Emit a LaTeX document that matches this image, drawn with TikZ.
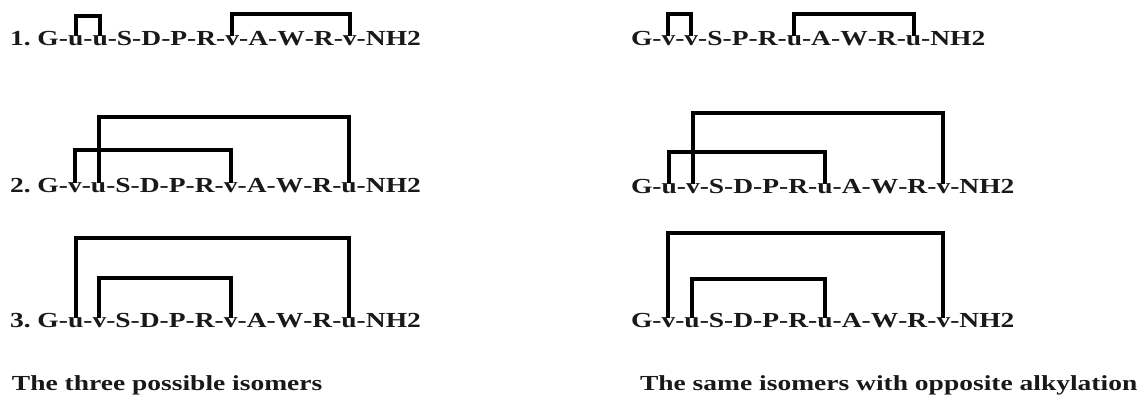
\documentclass[tikz,border=0pt]{standalone}
\usepackage{fontspec}
\usepackage{graphicx}
\setmainfont{Liberation Serif}
\newcommand\sq[1]{\scalebox{1}[0.78]{#1}}
\newcommand\pepline[4]{%
  \node[tok, anchor=base west] (#1-0) at #2 {\sq{#3}};
  \foreach \t [count=\i, remember=\i as \j (initially 0)] in {#4} {
    \node[tok, anchor=base west] (#1-\i) at (#1-\j.base east) {\sq{\t}};
  }%
}
\begin{document}
\begin{tikzpicture}[
  x=1pt, y=1pt,
  tok/.style={inner sep=0pt, outer sep=0pt, text=black!90,
    font=\fontsize{27.5pt}{30pt}\selectfont\bfseries},
  caption/.style={inner sep=0pt, outer sep=0pt, text=black!90,
    font=\fontsize{27.5pt}{30pt}\selectfont\bfseries},
  bracket/.style={line width=4pt, line join=miter, draw=black}
]
\useasboundingbox (0,0) rectangle (1144,409);

% left column
\pepline{L1}{(10,363)}{1.~}{G,-,u,-,u,-,S,-,D,-,P,-,R,-,v,-,A,-,W,-,R,-,v,-,NH2}
\pepline{L2}{(10,216)}{2.~}{G,-,v,-,u,-,S,-,D,-,P,-,R,-,v,-,A,-,W,-,R,-,u,-,NH2}
\pepline{L3}{(10,81)}{3.~}{G,-,u,-,v,-,S,-,D,-,P,-,R,-,v,-,A,-,W,-,R,-,u,-,NH2}

% right column
\pepline{R1}{(630,363)}{}{G,-,v,-,v,-,S,-,P,-,R,-,u,-,A,-,W,-,R,-,u,-,NH2}
\pepline{R2}{(630,215)}{}{G,-,u,-,v,-,S,-,D,-,P,-,R,-,u,-,A,-,W,-,R,-,v,-,NH2}
\pepline{R3}{(630,81)}{}{G,-,v,-,u,-,S,-,D,-,P,-,R,-,u,-,A,-,W,-,R,-,v,-,NH2}

% captions
\node[caption, anchor=base west] (capL) at (12,18) {\sq{The three possible isomers}};
\node[caption, anchor=base west] (capR) at (640,18) {\sq{The same isomers with opposite alkylation}};

% brackets, left column
\draw[bracket] (L1-3.north) -- (L1-3.north |- 0,393) -| (L1-5.north);
\draw[bracket] (L1-15.north) -- (L1-15.north |- 0,395) -| (L1-23.north);

\draw[bracket] (L2-3.north) -- (L2-3.north |- 0,259) -| (L2-15.north);
\draw[bracket] (L2-5.north) -- (L2-5.north |- 0,292) -| (L2-23.north);

\draw[bracket] (L3-3.north) -- (L3-3.north |- 0,171) -| (L3-23.north);
\draw[bracket] (L3-5.north) -- (L3-5.north |- 0,131) -| (L3-15.north);

% brackets, right column
\draw[bracket] (R1-3.north) -- (R1-3.north |- 0,395) -| (R1-5.north);
\draw[bracket] (R1-13.north) -- (R1-13.north |- 0,395) -| (R1-21.north);

\draw[bracket] (R2-3.north) -- (R2-3.north |- 0,257) -| (R2-15.north);
\draw[bracket] (R2-5.north) -- (R2-5.north |- 0,296) -| (R2-23.north);

\draw[bracket] (R3-3.north) -- (R3-3.north |- 0,176) -| (R3-23.north);
\draw[bracket] (R3-5.north) -- (R3-5.north |- 0,130) -| (R3-15.north);
\end{tikzpicture}
\end{document}
